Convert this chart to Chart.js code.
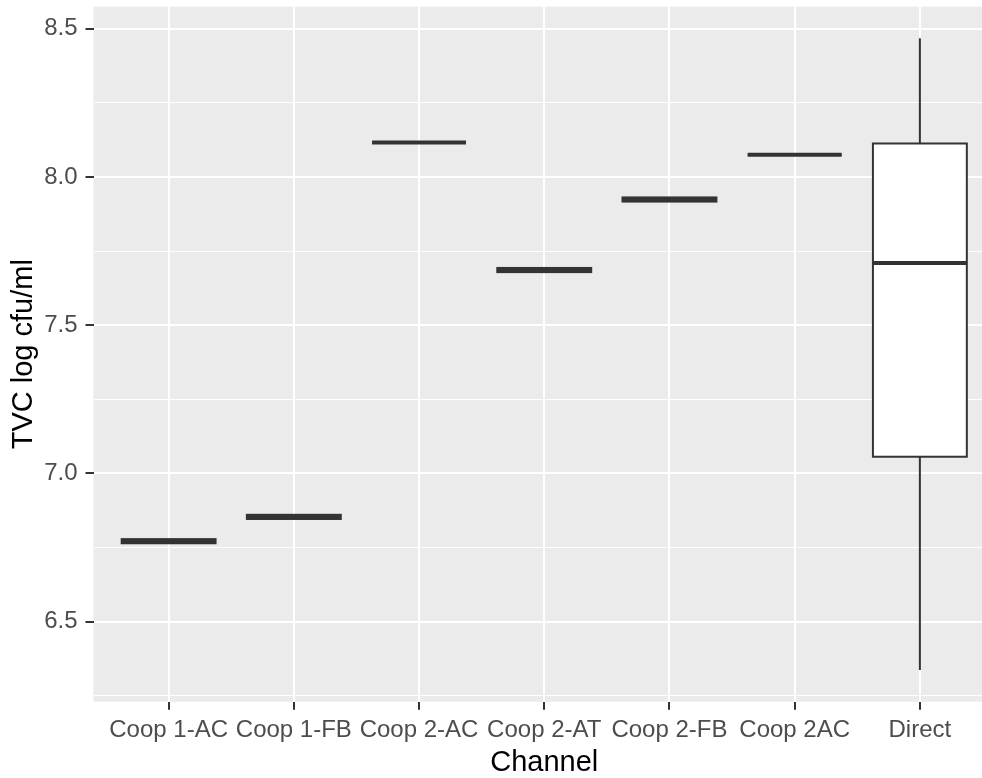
<!DOCTYPE html>
<html>
<head>
<meta charset="utf-8">
<script src="https://cdn.jsdelivr.net/npm/chart.js@4.4.1/dist/chart.umd.min.js"></script>
<style>
  html, body { margin: 0; padding: 0; background: #ffffff; overflow: hidden; }
  #wrap { position: relative; width: 1001px; height: 778px; }
</style>
</head>
<body>
<div id="wrap"><canvas id="c" width="1001" height="778"></canvas></div>
<script>
// TVC (log cfu/ml) by sales channel — box summaries per channel
const channels     = ['Coop 1-AC', 'Coop 1-FB', 'Coop 2-AC', 'Coop 2-AT', 'Coop 2-FB', 'Coop 2AC', 'Direct'];
const whiskerLow   = [6.764, 6.846, 8.116, 7.679, 7.917, 8.075, 6.336];
const q1           = [6.764, 6.846, 8.116, 7.679, 7.917, 8.075, 7.056];
const median       = [6.771, 6.853, 8.116, 7.686, 7.924, 8.075, 7.710];
const q3           = [6.778, 6.860, 8.116, 7.693, 7.931, 8.075, 8.113];
const whiskerHigh  = [6.778, 6.860, 8.116, 7.693, 7.931, 8.075, 8.468];

const yTickLabels  = ['6.5', '7.0', '7.5', '8.0', '8.5'];
const yMinorTicks  = [6.25, 6.75, 7.25, 7.75, 8.25];

const xTitle = 'Channel';
const yTitle = 'TVC log cfu/ml';

// ggplot-style 5% expansion of the continuous range
const dataLo = Math.min(...whiskerLow);
const dataHi = Math.max(...whiskerHigh);
const span = dataHi - dataLo;
const yMin = dataLo - 0.05 * span;
const yMax = dataHi + 0.05 * span;

const yMajorValues = yTickLabels.map(Number);
const isMajor = (v) => yMajorValues.some(m => Math.abs(m - v) < 1e-9);

const FONT = "'Liberation Sans', Arial, 'DejaVu Sans', sans-serif";
const BOX_COLOR = '#333333';

// grey panel behind the grid
const panelBackground = {
  id: 'panelBackground',
  beforeDraw(chart) {
    const { ctx, chartArea: a } = chart;
    ctx.save();
    ctx.fillStyle = '#EBEBEB';
    ctx.fillRect(a.left, a.top, a.right - a.left, a.bottom - a.top);
    ctx.restore();
  }
};

// whiskers, box outlines and medians on top of the white box bodies
const boxStrokes = {
  id: 'boxStrokes',
  afterDatasetsDraw(chart) {
    const { ctx } = chart;
    const y = chart.scales.y;
    const meta = chart.getDatasetMeta(0);
    ctx.save();
    ctx.strokeStyle = BOX_COLOR;
    ctx.lineCap = 'butt';
    meta.data.forEach((bar, i) => {
      const { x, width } = bar.getProps(['x', 'width'], true);
      const left = x - width / 2;
      const right = x + width / 2;
      const yQ1 = y.getPixelForValue(q1[i]);
      const yQ3 = y.getPixelForValue(q3[i]);
      const yMed = y.getPixelForValue(median[i]);
      const yLo = y.getPixelForValue(whiskerLow[i]);
      const yHi = y.getPixelForValue(whiskerHigh[i]);

      ctx.lineWidth = 2;
      ctx.beginPath();
      if (yHi < yQ3) { ctx.moveTo(x, yQ3); ctx.lineTo(x, yHi); }
      if (yLo > yQ1) { ctx.moveTo(x, yQ1); ctx.lineTo(x, yLo); }
      ctx.stroke();

      ctx.strokeRect(left, yQ3, width, yQ1 - yQ3);

      ctx.lineWidth = 4;
      ctx.beginPath();
      ctx.moveTo(left, yMed);
      ctx.lineTo(right, yMed);
      ctx.stroke();
    });
    ctx.restore();
  }
};

new Chart(document.getElementById('c'), {
  type: 'bar',
  data: {
    datasets: [{
      data: channels.map((c, i) => ({ x: i + 1, y: [q1[i], q3[i]] })),
      backgroundColor: '#FFFFFF',
      borderWidth: 0,
      barPercentage: 0.75,
      categoryPercentage: 1.0
    }]
  },
  options: {
    responsive: false,
    animation: false,
    layout: { padding: { top: 6.7, right: 6, left: 0, bottom: 0 } },
    plugins: { legend: { display: false }, tooltip: { enabled: false } },
    scales: {
      x: {
        type: 'linear',
        offset: false,
        min: 0.4,
        max: channels.length + 0.6,
        afterBuildTicks(scale) {
          scale.ticks = channels.map((c, i) => ({ value: i + 1 }));
        },
        afterFit(scale) {
          scale.height = 76.3;
          scale.paddingLeft = 0;
          scale.paddingRight = 0;
        },
        ticks: {
          autoSkip: false,
          maxRotation: 0,
          minRotation: 0,
          padding: 6,
          color: '#4D4D4D',
          font: { family: FONT, size: 24 },
          callback: (v) => channels[Math.round(v) - 1]
        },
        grid: {
          offset: false,
          color: '#FFFFFF',
          lineWidth: 2,
          drawTicks: true,
          tickLength: 8,
          tickWidth: 2,
          tickColor: BOX_COLOR
        },
        border: { display: false },
        title: {
          display: true,
          text: xTitle,
          color: '#000000',
          font: { family: FONT, size: 29, lineHeight: 1 },
          padding: { top: 0, bottom: 1 }
        }
      },
      y: {
        type: 'linear',
        min: yMin,
        max: yMax,
        afterBuildTicks(scale) {
          scale.ticks = [...yMinorTicks, ...yMajorValues]
            .sort((a, b) => a - b)
            .map(v => ({ value: v }));
        },
        afterFit(scale) {
          scale.width = 93.5;
          scale.paddingTop = 0;
          scale.paddingBottom = 0;
        },
        ticks: {
          padding: 8,
          color: '#4D4D4D',
          font: { family: FONT, size: 24 },
          callback: (v) => {
            const k = yMajorValues.findIndex(m => Math.abs(m - v) < 1e-9);
            return k >= 0 ? yTickLabels[k] : '';
          }
        },
        grid: {
          color: '#FFFFFF',
          lineWidth: (ctx) => isMajor(ctx.tick.value) ? 2 : 1,
          drawTicks: true,
          tickLength: 8,
          tickWidth: 2,
          tickColor: (ctx) => isMajor(ctx.tick.value) ? BOX_COLOR : 'rgba(0,0,0,0)'
        },
        border: { display: false },
        title: {
          display: true,
          text: yTitle,
          color: '#000000',
          font: { family: FONT, size: 29 },
          padding: { top: 7, bottom: 0 }
        }
      }
    }
  },
  plugins: [panelBackground, boxStrokes]
});
</script>
</body>
</html>
